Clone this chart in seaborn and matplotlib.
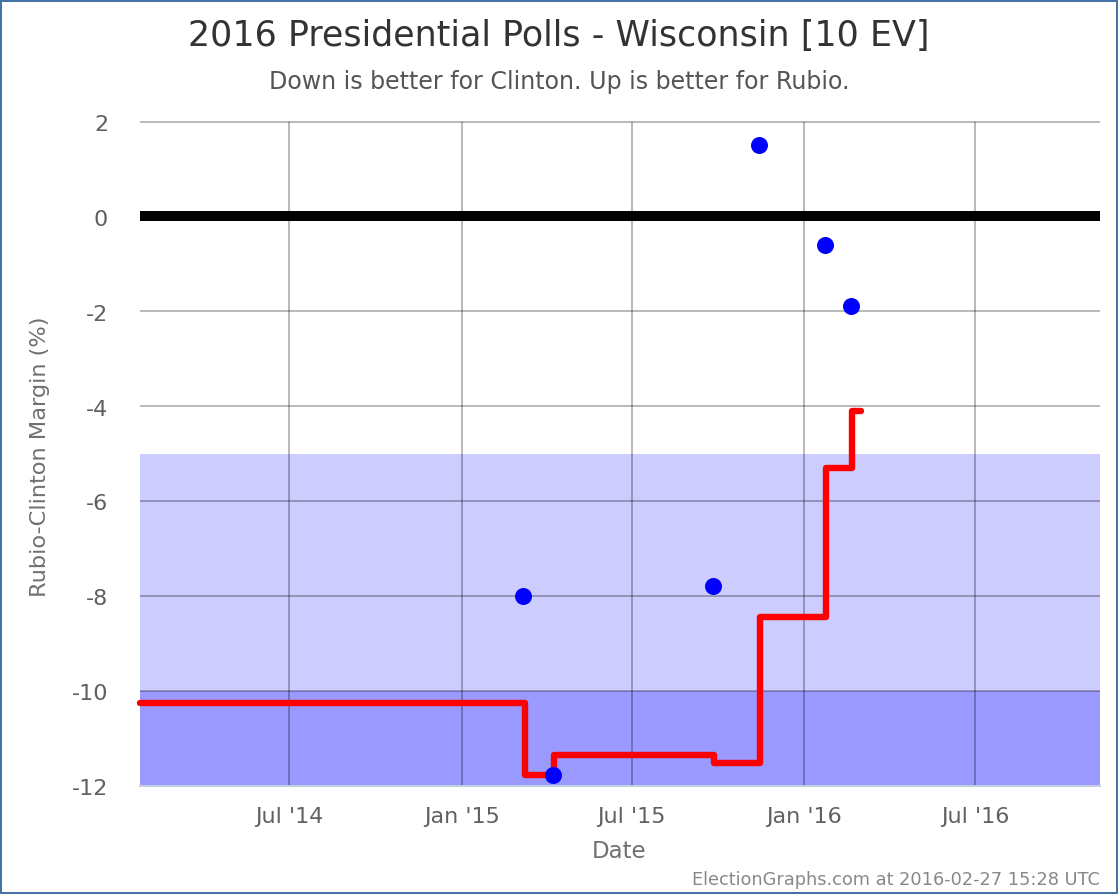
import matplotlib
matplotlib.use("Agg")
import matplotlib.pyplot as plt
from matplotlib.patches import Rectangle
from matplotlib.transforms import ScaledTranslation
import pandas as pd
import seaborn as sns

poll_dates = ["2015-03-07", "2015-04-08", "2015-09-26", "2015-11-14", "2016-01-23", "2016-02-20"]
poll_margins = [-8.0, -11.77, -7.8, 1.5, -0.6, -1.9]
avg_dates = ["2014-01-23", "2015-03-09", "2015-04-09", "2015-09-27", "2015-11-15",
             "2016-01-24", "2016-02-21", "2016-03-01"]
avg_margins = [-10.25, -11.77, -11.36, -11.53, -8.44, -5.31, -4.11, -4.11]
x_ticks = ["2014-07-01", "2015-01-01", "2015-07-01", "2016-01-01", "2016-07-01"]
x_labels = ["Jul '14", "Jan '15", "Jul '15", "Jan '16", "Jul '16"]
y_ticks = [2, 0, -2, -4, -6, -8, -10, -12]
y_labels = ["2", "0", "-2", "-4", "-6", "-8", "-10", "-12"]
x_range = ["2014-01-23", "2016-11-11"]

polls = pd.DataFrame({"date": pd.to_datetime(poll_dates), "margin": poll_margins})
avg = pd.DataFrame({"date": pd.to_datetime(avg_dates), "margin": avg_margins})

sns.set_theme(style="white")
plt.rcParams["font.family"] = ["DejaVu Sans"]

W, H = 1120, 896
fig = plt.figure(figsize=(W / 100, H / 100), dpi=100, facecolor="white")
L, R, T, B = 140, 1100, 121.5, 785.5
ax = fig.add_axes([L / W, 1 - B / H, (R - L) / W, (B - T) / H])
ax.set_facecolor("none")

ax.set_ylim(-12, 2)
ax.set_xlim(pd.to_datetime(x_range[0]), pd.to_datetime(x_range[1]))

ax.axhspan(-10, -5.02, color="#ccccff", lw=0, zorder=0)
ax.axhspan(-12, -10, color="#9999ff", lw=0, zorder=0)
ax.axhline(0, color="black", lw=7.2, zorder=1, clip_on=False, solid_capstyle="butt")

for t in x_ticks:
    ax.axvline(pd.to_datetime(t), color="black", alpha=0.27, lw=1.44, zorder=2, solid_capstyle="butt")
for v in y_ticks:
    ax.axhline(v, color="black", alpha=0.27, lw=1.44, zorder=2, clip_on=False, solid_capstyle="butt")

sns.lineplot(data=avg, x="date", y="margin", ax=ax, color="#ff0000", lw=4.6,
             drawstyle="steps-post", estimator=None, errorbar=None, zorder=3,
             solid_capstyle="round", solid_joinstyle="round", clip_on=False)
sns.scatterplot(data=polls, x="date", y="margin", ax=ax, color="#0000ff", s=150,
                linewidth=0, zorder=4, clip_on=False)

ax.set_xticks(pd.to_datetime(x_ticks))
ax.set_xticklabels(x_labels)
ax.set_yticks(y_ticks)
ax.set_yticklabels(y_labels)
ax.tick_params(axis="x", length=0, pad=15.5, labelsize=16, labelcolor="#606060")
ax.tick_params(axis="y", length=0, pad=23, labelsize=16, labelcolor="#606060")
offset = ScaledTranslation(0, -1.5 / 100, fig.dpi_scale_trans)
for lab in ax.get_yticklabels():
    lab.set_transform(lab.get_transform() + offset)

ax.set_xlabel("")
ax.set_ylabel("")
for s in ("top", "left", "right"):
    ax.spines[s].set_visible(False)
ax.spines["bottom"].set_color("#c0d0e0")
ax.spines["bottom"].set_linewidth(1.44)


def px(x, y):
    return x / W, 1 - y / H


fig.text(*px(559, 36), "2016 Presidential Polls - Wisconsin [10 EV]", ha="center", va="center",
         fontsize=25.1, color="#333333")
fig.text(*px(559, 82), "Down is better for Clinton. Up is better for Rubio.", ha="center", va="center",
         fontsize=17.1, color="#555555")
fig.text(*px(619, 851), "Date", ha="center", va="center", fontsize=16.5, color="#707070")
fig.text(*px(40, 457), "Rubio-Clinton Margin (%)", ha="center", va="center", rotation=90,
         fontsize=16.2, color="#707070")
fig.text(*px(1100, 880), "ElectionGraphs.com at 2016-02-27 15:28 UTC", ha="right", va="center",
         fontsize=12.75, color="#888888")

fig.add_artist(Rectangle((1 / W, 1 - 893 / H), 1116 / W, 892 / H, transform=fig.transFigure,
                         fill=False, edgecolor="#4572a7", lw=1.44))

fig.savefig("out.png", dpi=100, facecolor="white")
